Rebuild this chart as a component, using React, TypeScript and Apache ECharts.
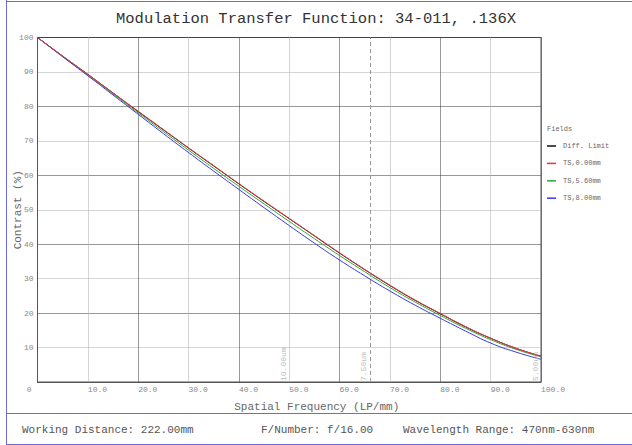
import React, { useEffect, useRef } from "react";
import * as echarts from "echarts";

const freqs = [0, 5, 10, 15, 20, 25, 30, 35, 40, 45, 50, 55, 60, 65, 70, 75, 80, 85, 90, 95, 100];
const diffLimit = [100, 94.6, 89.3, 83.9, 78.5, 73.2, 67.9, 62.7, 57.5, 52.4, 47.4, 42.4, 37.4, 32.6, 28.0, 23.7, 19.8, 16.0, 12.7, 9.8, 7.5];
const ts000 = [100, 94.6, 89.3, 83.9, 78.6, 73.3, 68.0, 62.8, 57.6, 52.5, 47.5, 42.5, 37.5, 32.7, 28.1, 23.8, 19.9, 16.1, 12.7, 9.8, 7.5];
const ts560 = [100, 94.5, 89.1, 83.6, 78.1, 72.7, 67.3, 62.0, 56.8, 51.7, 46.6, 41.6, 36.7, 32.0, 27.4, 23.2, 19.3, 15.6, 12.3, 9.5, 7.3];
const ts800 = [100, 94.4, 88.9, 83.3, 77.7, 72.1, 66.6, 61.2, 55.9, 50.6, 45.4, 40.3, 35.4, 30.8, 26.4, 22.3, 18.5, 14.8, 11.3, 8.7, 6.6];
const seriesNames = ["Diff. Limit", "TS,0.00mm", "TS,5.60mm", "TS,8.00mm"];
const seriesColors = ["#111111", "#e03a3a", "#3aa03a", "#3a3ae0"];
const cutoffFreqs = [50, 66, 100];
const cutoffLabels = ["10.00um", "7.50um", "5.00um"];
const footerTexts = ["Working Distance: 222.00mm", "F/Number: f/16.00", "Wavelength Range: 470nm-630nm"];
const titleText = "Modulation Transfer Function: 34-011, .136X";

const MONO = "'Liberation Mono', 'DejaVu Sans Mono', monospace";

export default function App() {
  const ref = useRef<HTMLDivElement>(null);
  useEffect(() => {
    if (!ref.current) return;
    const chart = echarts.init(ref.current, null, { renderer: "svg" });
    const allValues = [diffLimit, ts000, ts560, ts800];
    const series: any[] = allValues.map((vals, i) => ({
      name: seriesNames[i],
      type: "line",
      data: freqs.map((f, j) => [f, vals[j]]),
      smooth: true,
      symbol: "none",
      color: seriesColors[i],
      lineStyle: { width: 1, color: seriesColors[i] },
      itemStyle: { color: seriesColors[i] },
      z: i === 1 ? 5 : 3,
    }));
    series[0].markLine = {
      silent: true,
      symbol: "none",
      animation: false,
      data: cutoffFreqs.map((f, i) => ({
        xAxis: f,
        lineStyle: { color: f === 66 ? "#999" : "rgba(0,0,0,0)", type: [4, 3], width: 1 },
        label: {
          show: true,
          formatter: cutoffLabels[i],
          position: "insideStartTop",
          distance: [1, 2],
          color: "#bbb",
          fontSize: 8,
          fontFamily: MONO,
        },
      })),
    };
    const frame = "#6b6bdb";
    chart.setOption({
      animation: false,
      title: {
        text: titleText,
        left: "center",
        top: 6,
        textStyle: { fontFamily: MONO, fontSize: 15.5, fontWeight: "normal", color: "#333" },
      },
      legend: {
        data: seriesNames.map((n, i) => ({ name: n, icon: "rect", itemStyle: { color: seriesColors[i] } })),
        orient: "vertical",
        left: 547,
        top: 141,
        itemWidth: 9,
        itemHeight: 1.5,
        itemGap: 7.4,
        padding: 0,
        textStyle: { fontFamily: MONO, fontSize: 7, color: "#666", lineHeight: 10, padding: [0, 0, 0, 2] },
      },
      grid: {
        left: 37.5,
        right: 91,
        top: 37.5,
        bottom: 63,
        show: true,
        borderColor: "#555",
        borderWidth: 1,
      },
      xAxis: {
        type: "value",
        min: 0,
        max: 100,
        interval: 10,
        name: "Spatial Frequency (LP/mm)",
        nameLocation: "middle",
        nameGap: 19,
        nameMoveOverlap: false,
        nameTextStyle: { fontFamily: MONO, fontSize: 11, color: "#666", padding: [0, 0, 0, 55] },
        axisLine: { lineStyle: { color: "#555" } },
        axisTick: { show: false },
        axisLabel: {
          formatter: (v: number) => (v === 0 ? "" : v.toFixed(1)),
          align: "left",
          margin: 3,
          fontFamily: MONO,
          fontSize: 8,
          color: "#888",
        },
        splitLine: { show: true, lineStyle: { color: ["#333", "#aaa"], type: [1, 1], width: 1 } },
      },
      yAxis: {
        type: "value",
        min: 0,
        max: 100,
        interval: 10,
        name: "Contrast (%)",
        nameLocation: "middle",
        nameGap: 14,
        nameMoveOverlap: false,
        nameTextStyle: { fontFamily: MONO, fontSize: 11, color: "#666" },
        axisLine: { show: true, lineStyle: { color: "#555" } },
        axisTick: { show: false },
        axisLabel: {
          formatter: (v: number) => (v === 0 ? "{z|0}" : String(v)),
          margin: 4,
          fontFamily: MONO,
          fontSize: 8,
          color: "#888",
          rich: { z: { padding: [14, 2, 0, 0], fontFamily: MONO, fontSize: 8, color: "#888" } },
        },
        splitLine: { show: true, lineStyle: { color: ["#333", "#aaa"], type: [1, 1], width: 1 } },
      },
      graphic: [
        { type: "line", shape: { x1: 6.5, y1: 0, x2: 6.5, y2: 445 }, style: { stroke: frame, lineWidth: 1 } },
        { type: "line", shape: { x1: 6, y1: 1.5, x2: 632, y2: 1.5 }, style: { stroke: frame, lineWidth: 1 } },
        { type: "line", shape: { x1: 6, y1: 413.5, x2: 632, y2: 413.5 }, style: { stroke: frame, lineWidth: 1 } },
        { type: "line", shape: { x1: 6, y1: 444.5, x2: 632, y2: 444.5 }, style: { stroke: frame, lineWidth: 1 } },
        {
          type: "text",
          left: 547,
          top: 125,
          style: { text: "Fields", fontFamily: MONO, fontSize: 7, fill: "#666" },
        },
        ...footerTexts.map((t, i) => ({
          type: "text",
          left: [22, 261, 403][i],
          top: 424,
          style: { text: t, fontFamily: MONO, fontSize: 11, fill: "#555" },
        })),
      ],
      series,
    });
    return () => chart.dispose();
  }, []);
  return (
    <div
      ref={ref}
      style={{ position: "absolute", left: 0, top: 0, width: 632, height: 445, background: "#fff" }}
    />
  );
}
